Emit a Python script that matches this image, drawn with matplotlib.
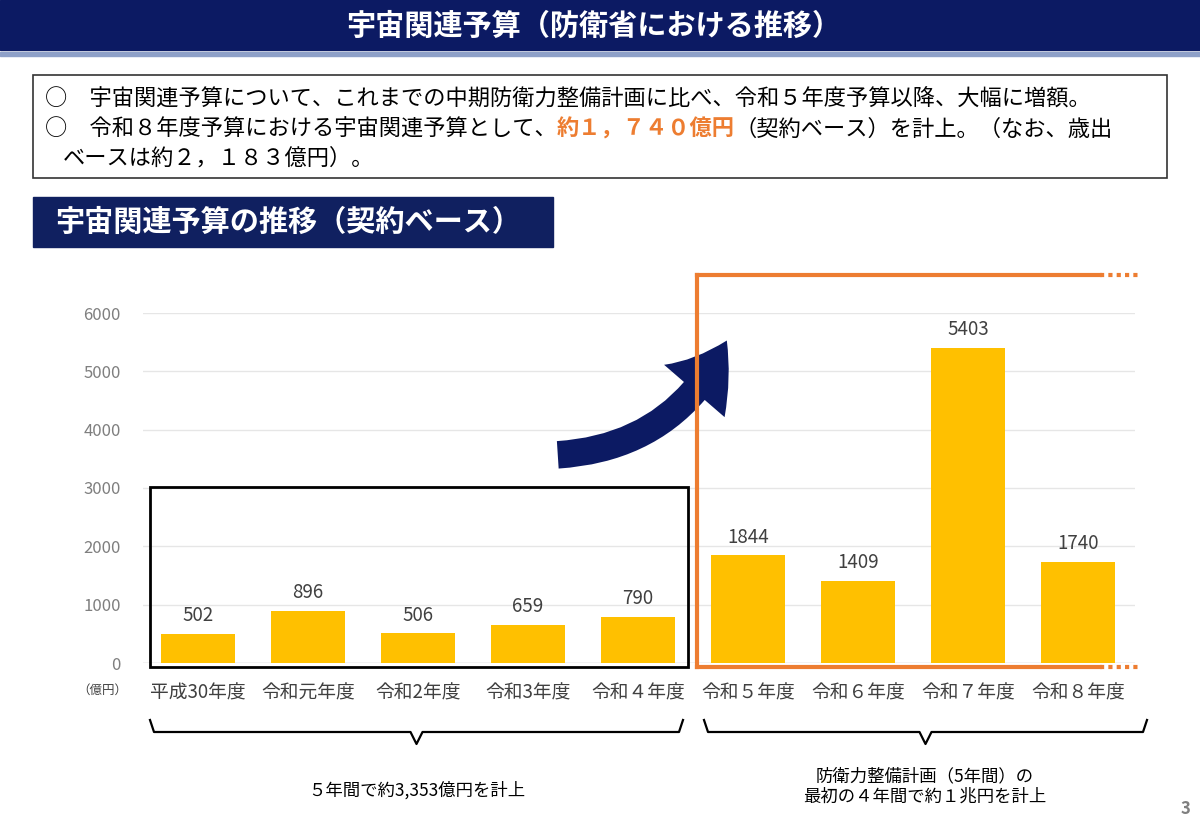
import matplotlib.pyplot as plt
from matplotlib.patches import Rectangle, FancyArrowPatch
import numpy as np

plt.rcParams['font.family'] = ['Noto Sans CJK JP', 'DejaVu Sans']

categories = ["平成30年度", "令和元年度", "令和2年度", "令和3年度", "令和４年度",
              "令和５年度", "令和６年度", "令和７年度", "令和８年度"]
values = [502, 896, 506, 659, 790, 1844, 1409, 5403, 1740]
y_ticks = [0, 1000, 2000, 3000, 4000, 5000, 6000]

W, H = 1200, 831
NAVY = "#0c1a63"
ORANGE = "#ed7d31"
BAR = "#ffc000"

fig = plt.figure(figsize=(12, 8.31), dpi=100)

# chart axes: y=0 at px 663, y=6000 at px 313
ax = fig.add_axes([143 / W, 1 - 663 / H, (1135 - 143) / W, 350 / H])
x = np.arange(len(categories))
ax.bar(x, values, width=0.67, color=BAR, zorder=2)
for xi, v in zip(x, values):
    ax.text(xi, v + 130, str(v), ha="center", va="bottom", fontsize=13.5, color="#404040")
ax.set_xlim(-0.5, 8.52)
ax.set_ylim(0, 6000)
ax.set_yticks(y_ticks)
ax.set_yticklabels([str(t) for t in y_ticks], fontsize=12, color="#7f7f7f")
ax.set_xticks(x)
ax.set_xticklabels(categories, fontsize=13.5, color="#404040")
ax.tick_params(length=0, axis="y", pad=16)
ax.tick_params(length=0, axis="x", pad=14)
ax.grid(axis="y", color="#e6e6e6", lw=1, zorder=0)
for s in ax.spines.values():
    s.set_visible(False)
ax.axhline(0, color="#d0d0d0", lw=1, zorder=1)

# overlay in pixel coordinates
ov = fig.add_axes([0, 0, 1, 1], zorder=5)
ov.set_xlim(0, W)
ov.set_ylim(H, 0)
ov.axis("off")
ov.patch.set_alpha(0)

# header
ov.add_patch(Rectangle((0, 0), W, 50, color=NAVY))
ov.add_patch(Rectangle((0, 52), W, 4, color="#8ea0c8"))
ov.text(594, 26, "宇宙関連予算（防衛省における推移）", ha="center", va="center",
        fontsize=21, fontweight="bold", color="white")

# info box
FS = 16
ov.add_patch(Rectangle((33, 75), 1134, 103, fill=False, ec="#333333", lw=1.2))
ov.text(45, 99, "○　宇宙関連予算について、これまでの中期防衛力整備計画に比べ、令和５年度予算以降、大幅に増額。",
        fontsize=FS, va="center", color="black")
t1 = ov.text(45, 129, "○　令和８年度予算における宇宙関連予算として、", fontsize=FS, va="center")
t2 = ov.annotate("約１，７４０億円", xy=(1, 0.5), xycoords=t1, va="center", ha="left",
                 fontsize=FS, color=ORANGE, fontweight="bold")
ov.annotate("（契約ベース）を計上。（なお、歳出", xy=(1, 0.5), xycoords=t2, va="center",
            ha="left", fontsize=FS)
ov.text(63, 158, "ベースは約２，１８３億円）。", fontsize=FS, va="center")

# sub-title
ov.add_patch(Rectangle((33, 197), 520, 50, color="#102060"))
ov.text(55, 222, "宇宙関連予算の推移（契約ベース）", fontsize=21, fontweight="bold",
        color="white", va="center")

# boxes
ov.add_patch(Rectangle((150, 487), 538, 180, fill=False, ec="black", lw=2))
ov.plot([697, 697], [275, 667], color=ORANGE, lw=3)
ov.plot([697, 1100], [275, 275], color=ORANGE, lw=3)
ov.plot([1100, 1140], [275, 275], color=ORANGE, lw=3, ls=(0, (1, 1)))
ov.plot([697, 1100], [667, 667], color=ORANGE, lw=3)
ov.plot([1100, 1140], [667, 667], color=ORANGE, lw=3, ls=(0, (1, 1)))

# arrow
ov.add_patch(FancyArrowPatch((555, 455), (728, 338), connectionstyle="arc3,rad=0.3",
                             arrowstyle="simple,head_width=3.2,head_length=2.4,tail_width=1.1",
                             mutation_scale=18, color=NAVY, lw=0))

ov.text(102, 690, "（億円）", fontsize=9, ha="center", va="center", color="#404040")

# braces
def brace(x0, x1, y):
    xm = (x0 + x1) / 2
    ov.plot([x0, x0 + 4, xm - 6, xm, xm + 6, x1 - 4, x1],
            [y - 12, y, y, y + 12, y, y, y - 12], color="black", lw=1.6)

brace(150, 683, 732)
brace(704, 1147, 732)
ov.text(417, 790, "５年間で約3,353億円を計上", fontsize=12.5, ha="center", va="center")
ov.text(925, 776, "防衛力整備計画（5年間）の", fontsize=12.5, ha="center", va="center")
ov.text(925, 797, "最初の４年間で約１兆円を計上", fontsize=12.5, ha="center", va="center")
ov.text(1185, 809, "3", fontsize=12, ha="center", va="center", color="#7f7f7f", fontweight="bold")

fig.savefig("out.png", dpi=100)
